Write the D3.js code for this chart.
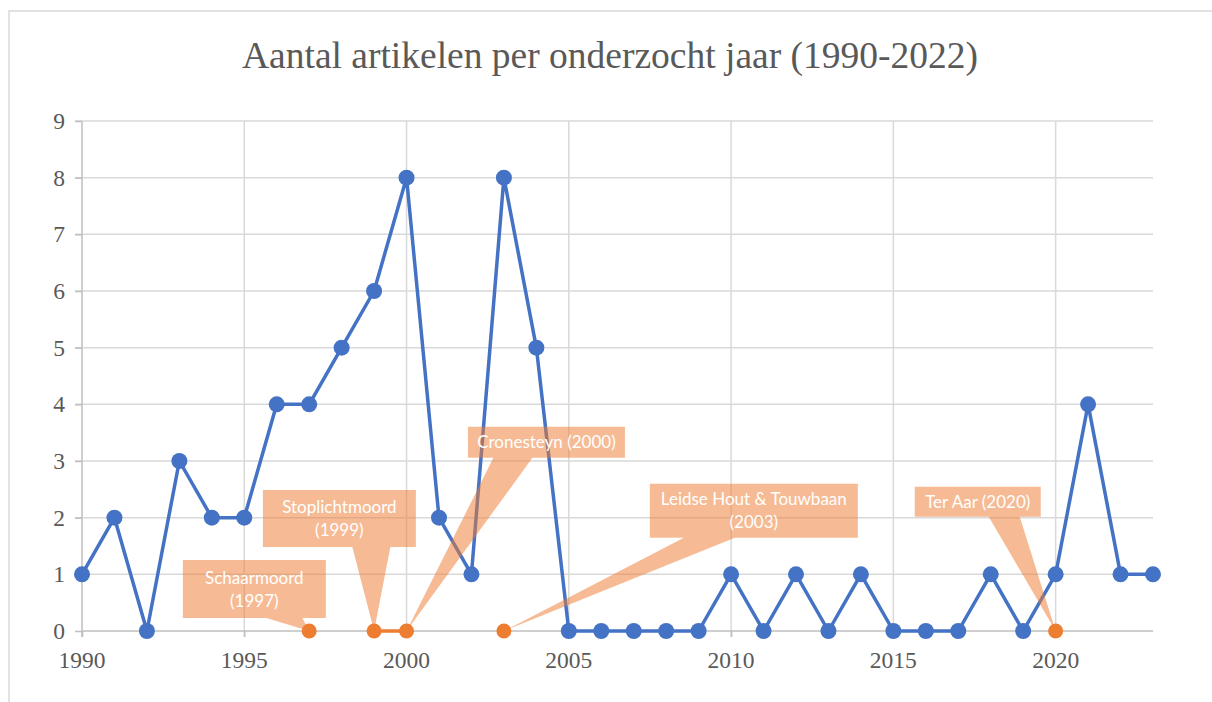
<!DOCTYPE html>
<html>
<head>
<meta charset="utf-8">
<title>Aantal artikelen per onderzocht jaar</title>
<style>
  body { margin: 0; background: #fff; }
  svg { display: block; }
  .serif { font-family: "Liberation Serif", "Times New Roman", serif; fill: #595959; }
  .lbl { font-family: Lato, "Open Sans", sans-serif; fill: #fff; font-size: 17px; }
</style>
</head>
<body>
<script src="https://cdn.jsdelivr.net/npm/d3@7"></script>
<script>
// data
const years  = d3.range(1990, 2024)
const counts = [1, 2, 0, 3, 2, 2, 4, 4, 5, 6, 8, 2, 1, 8, 5, 0, 0, 0, 0, 0,
                1, 0, 1, 0, 1, 0, 0, 0, 1, 0, 1, 4, 1, 1]
const caseYears  = [1997, 1999, 2000, 2003, 2020]
const caseValues = [0, 0, 0, 0, 0]
const caseLabels = [["Schaarmoord", "(1997)"], ["Stoplichtmoord", "(1999)"],
                    ["Cronesteyn (2000)"], ["Leidse Hout & Touwbaan", "(2003)"],
                    ["Ter Aar (2020)"]]
const xTicks = [1990, 1995, 2000, 2005, 2010, 2015, 2020]
const yTicks = d3.range(0, 10)

// callout placement (box centre in data units, size and pointer base in px)
const calloutPos = [
  {cx: 1995.31, cy: 0.74, w: 143, h: 58, p0: 12, p1: 48},
  {cx: 1997.93, cy: 1.985, w: 153, h: 57, p0: 13, p1: 51},
  {cx: 2004.31, cy: 3.33, w: 157, h: 31, p0: -53, p1: -14},
  {cx: 2010.70, cy: 2.12, w: 208, h: 54, p0: -70, p1: -19},
  {cx: 2017.60, cy: 2.28, w: 126, h: 30, p0: 11, p1: 42}
]

const W = 1212, H = 702
const svg = d3.select("body").append("svg").attr("width", W).attr("height", H)

// chart frame
svg.append("rect").attr("x", 9).attr("y", 11).attr("width", W).attr("height", H)
  .attr("fill", "#fff").attr("stroke", "#d9d9d9").attr("stroke-width", 1.5)

const x = d3.scaleLinear().domain([1990, 2023]).range([82, 1153])
const y = d3.scaleLinear().domain([0, 9]).range([631, 121])

// title
svg.append("text").attr("class", "serif")
  .attr("x", 610).attr("y", 68)
  .attr("text-anchor", "middle")
  .style("font-size", "37px")
  .attr("textLength", 736).attr("lengthAdjust", "spacingAndGlyphs")
  .text("Aantal artikelen per onderzocht jaar (1990-2022)")

// gridlines
const grid = svg.append("g").attr("stroke", "#d9d9d9").attr("stroke-width", 1.5)
grid.selectAll(".h").data(yTicks.filter(d => d > 0)).enter().append("line")
  .attr("x1", 75).attr("x2", x(2023))
  .attr("y1", d => y(d)).attr("y2", d => y(d))
grid.selectAll(".v").data(xTicks.filter(d => d > 1990)).enter().append("line")
  .attr("x1", d => x(d)).attr("x2", d => x(d))
  .attr("y1", y(9)).attr("y2", y(0) + 6)

// axes (ticks from d3, labels drawn separately)
const axisX = svg.append("g").attr("transform", `translate(0,${y(0)})`)
  .call(d3.axisBottom(x).tickValues(xTicks).tickFormat("").tickSize(6))
const axisY = svg.append("g").attr("transform", `translate(${x(1990)},0)`)
  .call(d3.axisLeft(y).tickValues(yTicks).tickFormat("").tickSize(7))
;[axisX, axisY].forEach(g => {
  g.select(".domain").attr("stroke", "#bfbfbf").attr("stroke-width", 1.5)
  g.selectAll(".tick line").attr("stroke", "#bfbfbf").attr("stroke-width", 1.5)
})
axisY.select(".domain").attr("d", `M0,${y(9)}V${y(0) + 6}`)
axisX.select(".domain").attr("d", `M${x(1990)},0H${x(2023)}`)

svg.append("g").selectAll("text").data(xTicks).enter().append("text")
  .attr("class", "serif").style("font-size", "23.5px")
  .attr("x", d => x(d)).attr("y", y(0) + 37)
  .attr("text-anchor", "middle").text(d => d)
svg.append("g").selectAll("text").data(yTicks).enter().append("text")
  .attr("class", "serif").style("font-size", "23.5px")
  .attr("x", x(1990) - 17).attr("y", d => y(d) + 8)
  .attr("text-anchor", "end").text(d => d)

// blue series
const pts = years.map((yr, i) => ({yr, v: counts[i]}))
const line = d3.line().x(d => x(d.yr)).y(d => y(d.v))
svg.append("path").attr("d", line(pts))
  .attr("fill", "none").attr("stroke", "#4472C4").attr("stroke-width", 3.5)
  .attr("stroke-linejoin", "round")
svg.append("g").attr("fill", "#4472C4").selectAll("circle").data(pts).enter()
  .append("circle").attr("cx", d => x(d.yr)).attr("cy", d => y(d.v)).attr("r", 8)

// callouts
const cases = caseYears.map((yr, i) => ({yr, v: caseValues[i], label: caseLabels[i], pos: calloutPos[i]}))
const co = svg.append("g").selectAll("g").data(cases).enter().append("g")
co.append("path")
  .attr("d", d => {
    const cx = x(d.pos.cx), cy = y(d.pos.cy), hw = d.pos.w / 2, hh = d.pos.h / 2
    const ax = x(d.yr), ay = y(d.v)
    return `M${cx - hw},${cy - hh}H${cx + hw}V${cy + hh}H${cx + d.pos.p1}L${ax},${ay}L${cx + d.pos.p0},${cy + hh}H${cx - hw}Z`
  })
  .attr("fill", "#ED7D31").attr("fill-opacity", 0.52)
co.each(function(d) {
  const g = d3.select(this)
  const cx = x(d.pos.cx), cy = y(d.pos.cy)
  const lh = 23, n = d.label.length
  d.label.forEach((t, k) => {
    g.append("text").attr("class", "lbl")
      .attr("x", cx).attr("y", cy + (k - (n - 1) / 2) * lh)
      .attr("dy", "0.36em")
      .attr("text-anchor", "middle")
      .text(t)
  })
})

// orange series (gaps between non-consecutive years)
const oLine = d3.line().defined(d => d.v != null).x(d => x(d.yr)).y(d => y(d.v))
const oFull = d3.range(1997, 2021).map(yr => {
  const i = caseYears.indexOf(yr)
  return {yr, v: i >= 0 ? caseValues[i] : null}
})
svg.append("path").attr("d", oLine(oFull))
  .attr("fill", "none").attr("stroke", "#ED7D31").attr("stroke-width", 3.5)
svg.append("g").attr("fill", "#ED7D31").selectAll("circle").data(cases).enter()
  .append("circle").attr("cx", d => x(d.yr)).attr("cy", d => y(d.v)).attr("r", 7.5)
</script>
</body>
</html>
